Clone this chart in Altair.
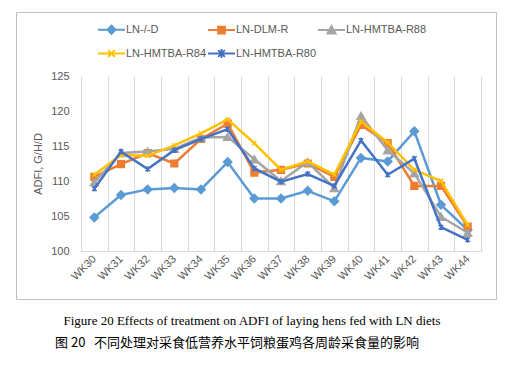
import altair as alt
import pandas as pd

weeks = ["WK30", "WK31", "WK32", "WK33", "WK34", "WK35", "WK36", "WK37",
         "WK38", "WK39", "WK40", "WK41", "WK42", "WK43", "WK44"]
series_names = ["LN-/-D", "LN-DLM-R", "LN-HMTBA-R88", "LN-HMTBA-R84", "LN-HMTBA-R80"]
colors = ["#5B9BD5", "#ED7D31", "#A5A5A5", "#FFC000", "#4472C4"]

ln_d = [104.8, 108.0, 108.8, 109.0, 108.8, 112.7, 107.5, 107.5, 108.6, 107.1, 113.3, 112.8, 117.1, 106.6, 103.0]
ln_dlm = [110.6, 112.4, 114.0, 112.5, 116.0, 118.2, 111.2, 111.6, 112.5, 110.6, 118.0, 115.4, 109.3, 109.3, 103.5]
ln_r88 = [109.8, 114.0, 114.2, 114.6, 116.2, 116.3, 113.1, 110.0, 112.7, 109.0, 119.3, 114.4, 111.1, 104.9, 102.6]
ln_r84 = [110.9, 113.7, 113.6, 115.1, 116.8, 118.8, 115.4, 111.6, 112.8, 110.9, 118.5, 115.5, 111.6, 110.0, 103.7]
ln_r80 = [108.9, 114.2, 111.7, 114.4, 116.0, 117.4, 111.8, 109.9, 111.0, 109.3, 115.8, 110.9, 113.2, 103.4, 101.6]
all_values = [ln_d, ln_dlm, ln_r88, ln_r84, ln_r80]

y_ticks = [100, 105, 110, 115, 120, 125]
caption_en = "Figure 20 Effects of treatment on ADFI of laying hens fed with LN diets"
caption_zh = "图\u00a020\u00a0\u00a0\u00a0不同处理对采食低营养水平饲粮蛋鸡各周龄采食量的影响"

X_PATH = "M-1,-1L1,1M-1,1L1,-1"
STAR_PATH = "M-1,-1L1,1M-1,1L1,-1M0,-1.3V1.3"
marker_shapes = ["diamond", "square", "triangle-up", X_PATH, STAR_PATH]
marker_sizes = [70, 45, 64, 18, 20]

legend_paths = [
    "M-1,0H1M0,-0.3L0.3,0L0,0.3L-0.3,0Z",
    "M-1,0H1M-0.25,-0.25H0.25V0.25H-0.25Z",
    "M-1,0H1M0,-0.3L0.3,0.25L-0.3,0.25Z",
    "M-1,0H1M-0.25,-0.25L0.25,0.25M-0.25,0.25L0.25,-0.25",
    "M-1,0H1M-0.25,-0.25L0.25,0.25M-0.25,0.25L0.25,-0.25M0,-0.33V0.33",
]

rows = []
for name, vals in zip(series_names, all_values):
    for w, v in zip(weeks, vals):
        rows.append({"week": w, "series": name, "adfi": v})
df = pd.DataFrame(rows)

FONT = "Liberation Sans"
GREY = "#595959"
BOX = "#BFBFBF"

x_enc = alt.X(
    "week:N", sort=weeks, bandPosition=0.5,
    scale=alt.Scale(type="band", paddingInner=0, paddingOuter=0),
    axis=alt.Axis(title=None, labelAngle=-45, labelAlign="right", labelBaseline="middle",
                  grid=True, tickBand="extent", gridColor="#D9D9D9", domainColor="#D9D9D9",
                  ticks=False, labelFont=FONT, labelFontSize=11, labelColor=GREY, labelPadding=6),
)
y_enc = alt.Y(
    "adfi:Q",
    scale=alt.Scale(domain=[100, 125], nice=False, zero=False),
    axis=alt.Axis(values=y_ticks, title="ADFI, G/H/D", grid=False, domain=False, ticks=False,
                  labelFont=FONT, labelFontSize=11, labelColor=GREY, labelPadding=12,
                  titleFont=FONT, titleFontSize=11, titleColor=GREY, titleFontWeight="normal",
                  titlePadding=7),
)

base = alt.Chart(df)
layers = []

one = alt.Data(values=[{"k": 1}])
box = alt.Chart(one).mark_rect(
    fill="#FFFFFF", fillOpacity=0, stroke=BOX, strokeWidth=1, strokeOpacity=1
).encode(x=alt.value(-64.5), x2=alt.value(415.5), y=alt.value(-63.5), y2=alt.value(223.5))
layers.append(box)

for name, c, shp, sz in zip(series_names, colors, marker_shapes, marker_sizes):
    sub = base.transform_filter(alt.datum.series == name)
    layers.append(sub.mark_line(color=c, strokeWidth=2.5).encode(x=x_enc, y=y_enc))
    layers.append(sub.mark_point(shape=shp, size=sz, filled=True, fill=c, stroke=c,
                                 strokeWidth=1.5, opacity=1).encode(x=x_enc, y=y_enc))

leg_cfg = dict(orient="none", legendX=16, legendY=-61, direction="horizontal", columns=3,
               title=None, symbolSize=729, symbolStrokeWidth=2, labelFont=FONT,
               labelFontSize=11, labelColor=GREY, labelOffset=0, columnPadding=-8,
               rowPadding=1, gridAlign="all")
legend_layer = base.transform_filter("false").mark_point(
    filled=True, opacity=1, strokeWidth=2
).encode(
    x=x_enc, y=y_enc,
    fill=alt.Fill("series:N", scale=alt.Scale(domain=series_names, range=colors),
                  legend=alt.Legend(**leg_cfg)),
    stroke=alt.Stroke("series:N", scale=alt.Scale(domain=series_names, range=colors),
                      legend=alt.Legend(**leg_cfg)),
    shape=alt.Shape("series:N", scale=alt.Scale(domain=series_names, range=legend_paths),
                    legend=alt.Legend(**leg_cfg)),
)
layers.append(legend_layer)

cap_en = alt.Chart(one).mark_text(
    text=caption_en, font="Liberation Serif", fontSize=13, align="center",
    baseline="middle", color="#000000"
).encode(x=alt.value(171), y=alt.value(245))
cap_zh = alt.Chart(one).mark_text(
    text=caption_zh, font="Noto Sans CJK SC", fontSize=13, align="left",
    baseline="middle", color="#000000"
).encode(x=alt.value(-26), y=alt.value(267))
layers += [cap_en, cap_zh]

chart = alt.layer(*layers).properties(
    width=400, height=175,
    autosize=alt.AutoSizeParams(type="none"),
    padding={"left": 73, "top": 68, "right": 33, "bottom": 104},
    background="white",
).configure_view(stroke=None)

chart.save("out.html", embed_options={"renderer": "svg", "actions": False})
